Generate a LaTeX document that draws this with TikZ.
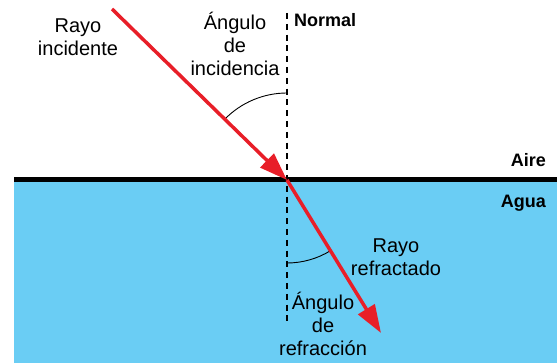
\documentclass[tikz,border=0pt]{standalone}
\usepackage{fontspec}
\setmainfont{Liberation Sans}
\usetikzlibrary{arrows.meta,positioning}
\definecolor{rojorayo}{RGB}{232,30,40}
\definecolor{azulagua}{RGB}{106,205,244}

\begin{document}
\begin{tikzpicture}[x=1pt,y=1pt,
     rayo/.style={line width=3.5pt,draw=rojorayo,-{Triangle[length=28pt,width=19pt,fill=rojorayo]}},
     normal/.style={line width=2.6pt,dash pattern=on 6pt off 4.8pt},
     arco/.style={line width=0.9pt},
     texto/.style={align=center,inner sep=0pt,font=\fontsize{20}{23}\selectfont},
     negrita/.style={inner sep=0pt,font=\fontsize{18}{22}\selectfont\bfseries}]
%% Marco, agua y superficie
  \useasboundingbox (0,0) rectangle (557,-363);
  \fill[azulagua] (14,-180) rectangle (557,-363);
  \coordinate (izq) at (14,-180);
  \coordinate (der) at (557,-180);
  \draw[line width=5pt] (izq) -- (der);

%% Normal y rayos
  \coordinate (origen) at (287,-180);
  \coordinate (normalsup) at (287,-13);
  \coordinate (normalinf) at (287,-326);
  \coordinate (inicio) at (112,-9);
  \coordinate (fin) at (381,-333);
  \draw[normal] (normalsup) -- (normalinf);
  \draw[arco] ([shift={(90:87)}]origen) arc[start angle=90,end angle=135.7,radius=87];
  \draw[arco] ([shift={(-90:83)}]origen) arc[start angle=-90,end angle=-58.4,radius=83];
  \draw[rayo] (inicio) -- (origen);
  \draw[rayo] (origen) -- (fin);

%% Textos
  \node[texto] (incidente) at (78,-37) {Rayo\\incidente};
  \node[texto] (angincid) at (235,-44) {Ángulo\\de\\incidencia};
  \node[negrita,anchor=base west] (lnormal) at (294,-27) {Normal};
  \node[negrita,anchor=base east] (aire) at (546,-167) {Aire};
  \node[negrita,anchor=base east] (agua) at (546,-208) {Agua};
  \node[texto] (refractado) at (396,-257) {Rayo\\refractado};
  \node[texto] (angrefrac) at (323,-324) {Ángulo\\de\\refracción};
\end{tikzpicture}
\end{document}
